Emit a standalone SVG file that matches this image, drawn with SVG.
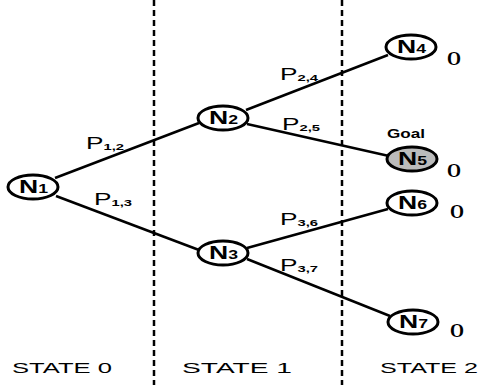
<svg xmlns="http://www.w3.org/2000/svg" width="481" height="385" viewBox="0 0 481 385">
<style>
.node{fill:#fff;stroke:#000;stroke-width:3}
.goal{fill:#bbb;stroke:#000;stroke-width:3}
.nl{font-family:"Liberation Sans",Arial,sans-serif;font-weight:bold;font-size:18px;text-anchor:start}
.sub{font-size:12px}
.edge{stroke:#000;stroke-width:2.5;fill:none}
.div{stroke:#000;stroke-width:2.5;stroke-dasharray:6,4}
.el{font-family:"Liberation Sans",Arial,sans-serif;font-size:16px}
.es{font-size:9px;font-weight:bold}
.st{font-family:"Liberation Sans",Arial,sans-serif;font-size:15px;text-anchor:start}
.o{font-family:"Liberation Serif","Times New Roman",serif;font-weight:bold;font-size:18px}
</style>
<rect width="481" height="385" fill="#fff"/>
<g id="dividers">
<line class="div" x1="154" y1="0" x2="154" y2="385"/>
<line class="div" x1="342" y1="0" x2="342" y2="385"/>
</g>
<g id="connectors">
<line class="edge" x1="55" y1="178" x2="199" y2="123"/>
<line class="edge" x1="56" y1="196" x2="199" y2="250"/>
<line class="edge" x1="246" y1="110" x2="388" y2="55"/>
<line class="edge" x1="247" y1="124" x2="389" y2="156"/>
<line class="edge" x1="247" y1="248" x2="388" y2="209"/>
<line class="edge" x1="247" y1="259" x2="390" y2="316"/>
<text class="el" x="86" y="149" textLength="38" lengthAdjust="spacingAndGlyphs">P<tspan class="es" dy="1">1,2</tspan></text>
<text class="el" x="94" y="205" textLength="38" lengthAdjust="spacingAndGlyphs">P<tspan class="es" dy="1">1,3</tspan></text>
<text class="el" x="280" y="80" textLength="38" lengthAdjust="spacingAndGlyphs">P<tspan class="es" dy="1">2,4</tspan></text>
<text class="el" x="282" y="130" textLength="38" lengthAdjust="spacingAndGlyphs">P<tspan class="es" dy="1">2,5</tspan></text>
<text class="el" x="280" y="225" textLength="38" lengthAdjust="spacingAndGlyphs">P<tspan class="es" dy="1">3,6</tspan></text>
<text class="el" x="280" y="271" textLength="38" lengthAdjust="spacingAndGlyphs">P<tspan class="es" dy="1">3,7</tspan></text>
</g>
<g id="N1"><ellipse class="node" cx="33" cy="187" rx="25" ry="12"/><text class="nl" x="19" y="193" textLength="29" lengthAdjust="spacingAndGlyphs">N<tspan class="sub">1</tspan></text></g>
<g id="N2"><ellipse class="node" cx="223" cy="118" rx="25" ry="12"/><text class="nl" x="209" y="124" textLength="29" lengthAdjust="spacingAndGlyphs">N<tspan class="sub">2</tspan></text></g>
<g id="N3"><ellipse class="node" cx="223" cy="253" rx="25" ry="12"/><text class="nl" x="209" y="259" textLength="29" lengthAdjust="spacingAndGlyphs">N<tspan class="sub">3</tspan></text></g>
<g id="N4"><ellipse class="node" cx="411" cy="47" rx="25" ry="12"/><text class="nl" x="397" y="53" textLength="29" lengthAdjust="spacingAndGlyphs">N<tspan class="sub">4</tspan></text><text class="o" x="447" y="65" textLength="14" lengthAdjust="spacingAndGlyphs">O</text></g>
<g id="N5"><text x="387" y="138" textLength="38" lengthAdjust="spacingAndGlyphs" style="font-family:'Liberation Sans',Arial,sans-serif;font-size:12px;font-weight:bold">Goal</text><ellipse class="goal" cx="412" cy="159" rx="25" ry="12"/><text class="nl" x="398" y="165" textLength="29" lengthAdjust="spacingAndGlyphs">N<tspan class="sub">5</tspan></text><text class="o" x="447" y="177" textLength="14" lengthAdjust="spacingAndGlyphs">O</text></g>
<g id="N6"><ellipse class="node" cx="412" cy="203" rx="25" ry="12"/><text class="nl" x="398" y="209" textLength="29" lengthAdjust="spacingAndGlyphs">N<tspan class="sub">6</tspan></text><text class="o" x="450" y="218" textLength="14" lengthAdjust="spacingAndGlyphs">O</text></g>
<g id="N7"><ellipse class="node" cx="413" cy="322" rx="25" ry="12"/><text class="nl" x="399" y="328" textLength="29" lengthAdjust="spacingAndGlyphs">N<tspan class="sub">7</tspan></text><text class="o" x="450" y="337" textLength="14" lengthAdjust="spacingAndGlyphs">O</text></g>
<g id="states">
<text class="st" x="12" y="373" textLength="100" lengthAdjust="spacingAndGlyphs">STATE 0</text>
<text class="st" x="182" y="373" textLength="110" lengthAdjust="spacingAndGlyphs">STATE 1</text>
<text class="st" x="380" y="373" textLength="98" lengthAdjust="spacingAndGlyphs">STATE 2</text>
</g>
</svg>
